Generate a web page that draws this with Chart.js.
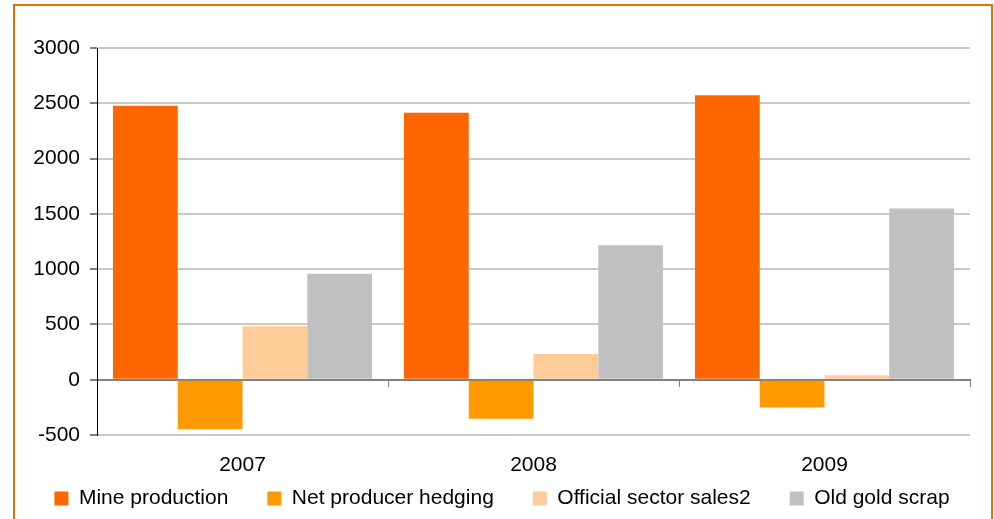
<!DOCTYPE html>
<html>
<head>
<meta charset="utf-8">
<script src="https://cdn.jsdelivr.net/npm/chart.js@4/dist/chart.umd.min.js"></script>
<style>
  html,body{margin:0;padding:0;background:#fff;overflow:hidden;}
  #wrap{position:relative;width:994px;height:519px;}
  #frame{position:absolute;left:13px;top:4px;width:976px;height:560px;border:2px solid #e46c0a;box-sizing:content-box;}
  #c{position:absolute;left:0;top:0;}
</style>
</head>
<body>
<div id="wrap">
  <div id="frame"></div>
  <canvas id="c" width="994" height="519"></canvas>
</div>
<script>
const years = ['2007','2008','2009'];
const mineProduction = [2478, 2415, 2572];
const netHedging = [-447, -352, -252];
const officialSales = [484, 232, 41];
const oldGoldScrap = [958, 1217, 1549];

const font = {family:"Arial, 'Liberation Sans', sans-serif", size:21};
Chart.defaults.color = '#000';
Chart.defaults.font = font;

const gridColor = c => c.tick && c.tick.value === 0 ? '#808080' : '#c8c8c8';

new Chart(document.getElementById('c'), {
  type:'bar',
  data:{
    labels: years,
    datasets:[
      {label:'Mine production', data:mineProduction, backgroundColor:'#ff6600'},
      {label:'Net producer hedging', data:netHedging, backgroundColor:'#ff9900'},
      {label:'Official sector sales2', data:officialSales, backgroundColor:'#ffcc99'},
      {label:'Old gold scrap', data:oldGoldScrap, backgroundColor:'#c0c0c0'}
    ]
  },
  options:{
    responsive:false,
    animation:false,
    categoryPercentage:0.89,
    barPercentage:1,
    layout:{padding:{top:48, right:0, left:10, bottom:0}},
    plugins:{
      tooltip:{enabled:false},
      legend:{
        position:'bottom',
        labels:{boxWidth:14, boxHeight:14, padding:39, font:font, color:'#000'}
      }
    },
    scales:{
      x:{
        grid:{display:false, drawTicks:false},
        border:{display:false},
        // mirror so the labels are not clipped to the thin axis box
        ticks:{font:font, mirror:true, padding:-43, color:'#000'},
        afterFit: s => { s.height = 14; }
      },
      x2:{
        type:'category',
        position:{y:0},
        grid:{drawOnChartArea:false, offset:true, tickLength:6, color:'#808080', lineWidth:1},
        border:{display:true, color:'#808080', width:2},
        ticks:{display:false}
      },
      y:{
        min:-500, max:3000,
        ticks:{stepSize:500, font:font, padding:10, color:'#000', callback: v => String(v)},
        grid:{color:gridColor, lineWidth:2, tickLength:7, tickColor:'#000', tickWidth:1},
        border:{display:true, color:'#000', width:1},
        afterFit: s => { s.width = 87; }
      },
      // empty right gutter
      yRight:{
        position:'right',
        grid:{display:false},
        border:{display:false},
        ticks:{display:false},
        afterFit: s => { s.width = 24; }
      }
    }
  }
});
</script>
</body>
</html>
